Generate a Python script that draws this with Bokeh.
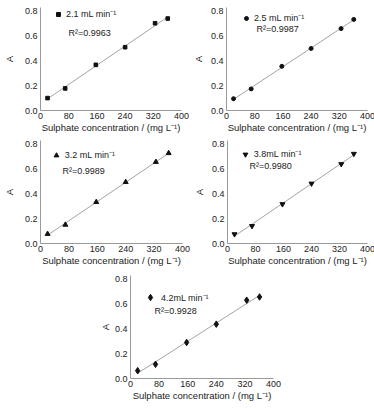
import numpy as np
from bokeh.plotting import figure
from bokeh.layouts import column, row, Spacer
from bokeh.models import Legend, LegendItem, Label, FixedTicker, NumeralTickFormatter, Range1d
from bokeh.embed import file_html
from bokeh.resources import INLINE

# ---- data ----
conc = [20, 70, 157, 240, 325, 361]
abs_21 = [0.100, 0.178, 0.368, 0.510, 0.703, 0.741]
abs_25 = [0.095, 0.174, 0.356, 0.500, 0.660, 0.734]
abs_32 = [0.077, 0.151, 0.334, 0.495, 0.657, 0.728]
abs_38 = [0.075, 0.141, 0.317, 0.483, 0.640, 0.723]
abs_42 = [0.063, 0.114, 0.290, 0.438, 0.631, 0.657]
flow_labels = ["2.1 mL min⁻¹", "2.5 mL min⁻¹", "3.2 mL min⁻¹", "3.8mL min⁻¹", "4.2mL min⁻¹"]
r2_labels = ["R²=0.9963", "R²=0.9987", "R²=0.9989", "R²=0.9980", "R²=0.9928"]
markers = ["square", "circle", "triangle", "inverted_triangle", "diamond"]
marker_sizes = [3.6, 4, 5, 5, 6.5]
x_ticks = [0, 80, 160, 240, 320, 400]
y_ticks = [0.0, 0.2, 0.4, 0.6, 0.8]
x_label = "Sulphate concentration / (mg L⁻¹)"
y_label = "A"

FONT = "Liberation Sans"
TXT = "#222222"
AX = "#9a9a9a"

# layout styles: (frame w, frame h, left, right, top, bottom, y-label standoff,
#                 legend marker (dx, dy from frame top-left), r2 (dx, dy))
panel_styles = [
    (141, 103, 36, 8, 7, 28, 7, (18, 8), (28, 25)),
    (141, 103, 31, 10, 7, 28, 4, (20, 12), (30, 21)),
    (142, 103, 36, 8, 2, 27, 7, (16, 15), (22, 30)),
    (140, 103, 31, 12, 2, 27, 4, (18, 14), (22, 25)),
    (143, 103, 28, 10, 5, 25, 1, (20, 22), (24, 35)),
]


def make_panel(ys, marker, msize, flow, r2, style):
    fw, fh, bl, br, bt, bb, ystand, (mx, my), (rx, ry) = style
    p = figure(frame_width=fw, frame_height=fh, output_backend="svg", toolbar_location=None,
               x_range=Range1d(0, 400), y_range=Range1d(0, 0.83),
               min_border_left=bl, min_border_right=br, min_border_top=bt, min_border_bottom=bb)
    p.outline_line_color = None
    p.grid.visible = False
    p.background_fill_color = "white"
    p.border_fill_color = "white"

    k, b = np.polyfit(conc, ys, 1)
    xl = [min(conc), max(conc)]
    p.line(xl, [k * x + b for x in xl], line_color="#8c8c8c", line_width=0.8)
    r = p.scatter(conc, ys, marker=marker, size=msize, fill_color="#111111", line_color="#111111")

    for ax in (p.xaxis[0], p.yaxis[0]):
        ax.axis_line_color = AX
        ax.axis_line_width = 1
        ax.major_tick_line_color = None
        ax.minor_tick_line_color = None
        ax.major_tick_out = 0
        ax.major_tick_in = 0
        ax.minor_tick_out = 0
        ax.minor_tick_in = 0
        ax.major_label_text_font = FONT
        ax.major_label_text_font_size = "9px"
        ax.major_label_text_color = TXT
        ax.axis_label_text_font = FONT
        ax.axis_label_text_font_size = "9.5px"
        ax.axis_label_text_font_style = "normal"
        ax.axis_label_text_color = TXT
    p.xaxis.major_label_standoff = 2
    p.xaxis.axis_label_standoff = 0
    p.yaxis.major_label_standoff = 3
    p.yaxis.axis_label_standoff = ystand
    p.xaxis.ticker = FixedTicker(ticks=x_ticks)
    p.yaxis.ticker = FixedTicker(ticks=y_ticks)
    p.yaxis.formatter = NumeralTickFormatter(format="0.0")
    p.xaxis.axis_label = x_label
    p.yaxis.axis_label = y_label

    g = max(msize / 0.4, 10)
    leg = Legend(items=[LegendItem(label=flow, renderers=[r])],
                 location=(mx - g / 2, fh - my - g / 2),
                 border_line_alpha=0, background_fill_alpha=0, padding=0, margin=0, spacing=0,
                 glyph_width=int(round(g)), glyph_height=int(round(g)), label_standoff=3,
                 label_height=int(round(g)),
                 label_text_font=FONT, label_text_font_size="9px", label_text_color=TXT,
                 label_text_baseline="middle")
    p.add_layout(leg)
    p.add_layout(Label(x=rx, y=fh - ry, x_units="screen", y_units="screen", text=r2,
                       text_font=FONT, text_font_size="9px", text_color=TXT,
                       text_baseline="middle", text_align="left"))
    return p


series = [abs_21, abs_25, abs_32, abs_38, abs_42]
ps = [make_panel(series[i], markers[i], marker_sizes[i], flow_labels[i], r2_labels[i], panel_styles[i])
      for i in range(5)]

layout = column(row(ps[0], ps[1]), row(ps[2], ps[3]), row(Spacer(width=96, height=10), ps[4]),
                spacing=0)

open("out.html", "w").write(file_html(layout, INLINE))
